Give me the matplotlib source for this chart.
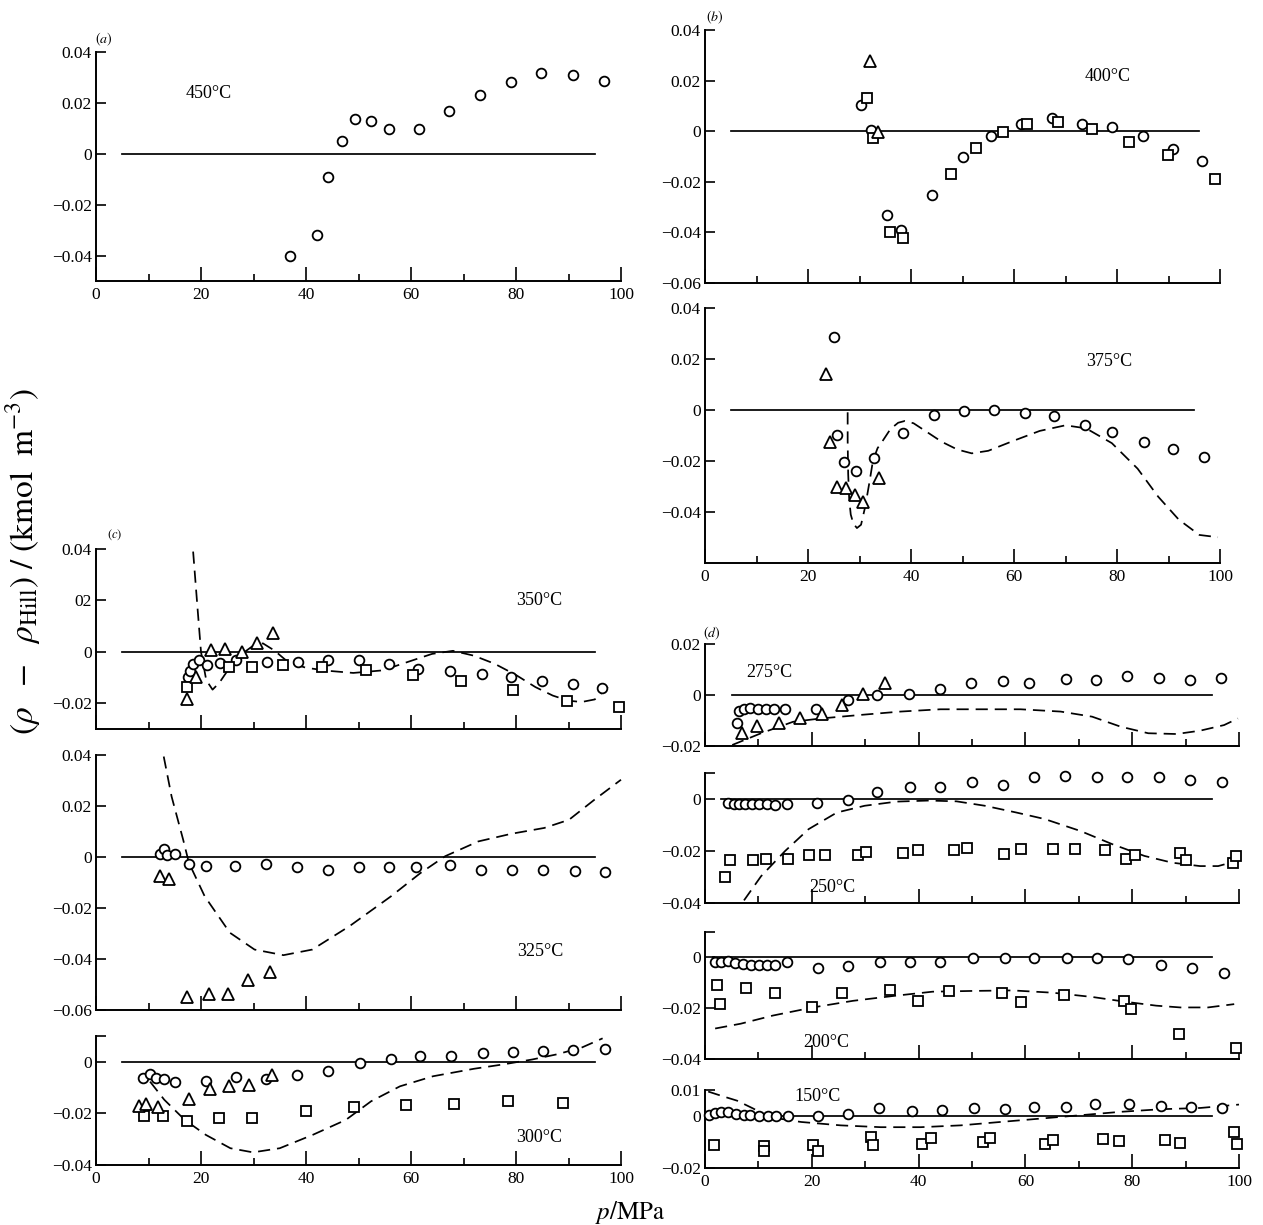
import matplotlib
matplotlib.use("Agg")
import matplotlib.pyplot as plt
from matplotlib.ticker import MultipleLocator, FixedLocator

"""
Deviation of measured densities from the Hill equation, p from 0 to 100 MPa,
eleven isotherms in four groups (a) to (d).
"""

# ---- data: p in MPa, deviation in kmol m^-3 ----
# (a) 450 C
p450_circ = [36.9, 42.0, 44.1, 46.8, 49.4, 52.4, 55.9, 61.6, 67.3, 73.2, 79.0, 84.8, 90.9, 96.7]
d450_circ = [-0.0401, -0.0320, -0.0093, 0.0048, 0.0135, 0.0127, 0.0098, 0.0098, 0.0169, 0.0231,
             0.0282, 0.0315, 0.0310, 0.0286]

# (b) 400 C
p400_circ = [30.3, 32.3, 35.3, 38.1, 44.0, 50.0, 55.6, 61.4, 67.4, 73.2, 79.0, 85.1, 90.9, 96.5]
d400_circ = [0.0104, 0.0003, -0.0332, -0.0390, -0.0253, -0.0103, -0.0020, 0.0029, 0.0053, 0.0029,
             0.0016, -0.0018, -0.0069, -0.0117]
p400_sq = [31.4, 32.6, 35.9, 38.4, 47.8, 52.7, 57.8, 62.6, 68.6, 75.2, 82.3, 89.9, 99.1]
d400_sq = [0.0131, -0.0025, -0.0400, -0.0421, -0.0170, -0.0065, -0.0004, 0.0029, 0.0036, 0.0009,
           -0.0044, -0.0094, -0.0190]
p400_tri = [32.1, 33.6]
d400_tri = [0.0276, -0.0004]

# (b) 375 C
p375_circ = [25.0, 25.7, 27.0, 29.4, 32.8, 38.5, 44.5, 50.2, 56.2, 62.1, 67.8, 73.7, 79.0, 85.2, 90.8, 96.8]
d375_circ = [0.0286, -0.0099, -0.0204, -0.0239, -0.0187, -0.0090, -0.0018, -0.0004, 0.0000, -0.0010,
             -0.0025, -0.0059, -0.0086, -0.0127, -0.0152, -0.0183]
p375_tri = [23.5, 24.3, 25.6, 27.3, 29.1, 30.6, 33.7]
d375_tri = [0.0140, -0.0125, -0.0303, -0.0306, -0.0332, -0.0361, -0.0265]
p375_eq = [27.7, 27.7, 27.8, 28.0, 28.3, 28.8, 29.5, 30.3, 31.1, 32.0, 32.6, 33.5, 34.6, 36.0, 37.5,
           38.8, 40.5, 43.0, 46.0, 49.0, 51.8, 55.0, 60.0, 65.0, 70.0, 74.0, 79.0, 84.0, 88.0, 92.0,
           96.0, 99.6]
d375_eq = [-0.0009, -0.012, -0.025, -0.035, -0.041, -0.0445, -0.0463, -0.045, -0.038, -0.0275, -0.020,
           -0.015, -0.0118, -0.0075, -0.0050, -0.0043, -0.0052, -0.0085, -0.0125, -0.0155, -0.0170,
           -0.0160, -0.0120, -0.0082, -0.0060, -0.0072, -0.013, -0.023, -0.034, -0.043, -0.049, -0.0499]

# (c) 350 C
p350_circ = [17.5, 17.9, 18.5, 19.7, 21.2, 23.7, 26.7, 32.5, 38.4, 44.1, 50.1, 55.9, 61.3, 67.5, 73.5,
             79.0, 85.0, 90.9, 96.4]
d350_circ = [-0.0098, -0.0074, -0.0048, -0.0033, -0.0052, -0.0043, -0.0031, -0.0039, -0.0039, -0.0030,
             -0.0033, -0.0046, -0.0065, -0.0074, -0.0087, -0.0098, -0.0115, -0.0124, -0.0140]
p350_sq = [17.4, 25.4, 29.7, 35.6, 43.1, 51.5, 60.4, 69.6, 79.4, 89.7, 99.7]
d350_sq = [-0.0137, -0.0059, -0.0059, -0.0051, -0.0059, -0.0069, -0.0090, -0.0115, -0.0147, -0.0190, -0.0213]
p350_tri = [17.3, 19.1, 21.9, 24.6, 27.8, 30.7, 33.7]
d350_tri = [-0.0183, -0.0098, 0.0007, 0.0012, 0.0001, 0.0035, 0.0074]
p350_eq = [18.5, 19.3, 20.0, 21.0, 22.2, 23.5, 25.5, 28.0, 30.0, 31.8, 34.0, 36.6, 40.0, 44.4, 49.0,
           54.6, 60.0, 64.0, 68.0, 72.0, 75.9, 80.0, 83.7, 87.0, 90.0, 92.5, 95.0, 97.5]
d350_eq = [0.039, 0.018, 0.0, -0.011, -0.0147, -0.012, -0.006, -0.0005, 0.0025, 0.0033, 0.0005, -0.0040,
           -0.0062, -0.0074, -0.0082, -0.0072, -0.0035, -0.0008, 0.0004, -0.0015, -0.0046, -0.0090,
           -0.0137, -0.0170, -0.0190, -0.0195, -0.0185, -0.0137]

# (c) 325 C
p325_circ = [12.1, 12.9, 13.6, 15.1, 17.7, 21.0, 26.4, 32.4, 38.3, 44.1, 50.1, 55.9, 61.0, 67.4, 73.3,
             79.2, 85.2, 91.2, 96.9]
d325_circ = [0.0013, 0.0031, 0.0009, 0.0013, -0.0027, -0.0037, -0.0037, -0.0026, -0.0039, -0.0050,
             -0.0039, -0.0039, -0.0039, -0.0033, -0.0050, -0.0050, -0.0050, -0.0056, -0.0060]
p325_tri = [12.2, 13.9, 17.4, 21.6, 25.2, 28.9, 33.2]
d325_tri = [-0.0076, -0.0086, -0.0549, -0.0539, -0.0539, -0.0483, -0.0451]
p325_eq = [12.9, 14.4, 16.6, 17.7, 20.7, 25.5, 30.2, 35.7, 41.2, 48.3, 56.2, 61.8, 66.5, 72.8, 79.1,
           85.4, 90.1, 94.9, 100.0]
d325_eq = [0.0394, 0.0237, 0.0068, -0.0023, -0.0154, -0.0297, -0.0363, -0.0385, -0.0363, -0.0271,
           -0.0154, -0.0063, 0.0003, 0.0061, 0.0091, 0.0114, 0.0146, 0.0224, 0.0303]

# (c) 300 C
p300_circ = [8.9, 10.2, 11.4, 13.0, 15.0, 20.9, 26.6, 32.4, 38.3, 44.2, 50.2, 56.1, 61.7, 67.6, 73.7,
             79.4, 85.1, 90.9, 96.9]
d300_circ = [-0.0062, -0.0047, -0.0062, -0.0066, -0.0078, -0.0075, -0.0058, -0.0065, -0.0052, -0.0034,
             -0.0006, 0.0009, 0.0021, 0.0022, 0.0034, 0.0039, 0.0040, 0.0044, 0.0048]
p300_sq = [9.1, 12.7, 17.4, 23.5, 29.8, 40.0, 49.1, 59.1, 68.1, 78.5, 89.0]
d300_sq = [-0.0209, -0.0209, -0.0229, -0.0219, -0.0219, -0.0190, -0.0175, -0.0168, -0.0162, -0.0151, -0.0160]
p300_tri = [8.1, 9.6, 11.8, 17.7, 21.7, 25.4, 29.2, 33.5]
d300_tri = [-0.0170, -0.0164, -0.0175, -0.0143, -0.0105, -0.0092, -0.0090, -0.0052]
p300_eq = [10.3, 13.0, 16.9, 20.9, 25.6, 29.9, 35.0, 41.3, 47.6, 52.4, 57.9, 64.2, 72.0, 77.6, 83.1,
           87.8, 92.5, 96.5]
d300_eq = [-0.0077, -0.0147, -0.0225, -0.0283, -0.0335, -0.0351, -0.0335, -0.0283, -0.0225, -0.0153,
           -0.0095, -0.0056, -0.0027, -0.0010, 0.0009, 0.0029, 0.0055, 0.0091]

# (d) 275 C
p275_circ = [6.0, 6.4, 7.3, 8.4, 10.0, 11.5, 13.0, 15.0, 20.8, 26.7, 32.3, 38.2, 44.0, 49.8, 55.8,
             60.6, 67.6, 73.3, 79.1, 85.0, 90.8, 96.6]
d275_circ = [-0.0111, -0.0061, -0.0054, -0.0051, -0.0056, -0.0056, -0.0056, -0.0056, -0.0056, -0.0020,
             -0.0001, 0.0004, 0.0022, 0.0048, 0.0056, 0.0048, 0.0064, 0.0059, 0.0075, 0.0065, 0.0059, 0.0065]
p275_tri = [6.9, 9.7, 13.8, 17.8, 21.9, 25.7, 29.5, 33.7]
d275_tri = [-0.0148, -0.0120, -0.0108, -0.0092, -0.0075, -0.0039, 0.0004, 0.0046]
p275_eq = [5.1, 10.5, 16.5, 21.7, 29.2, 36.6, 44.1, 51.6, 59.1, 66.6, 72.5, 77.8, 83.0, 88.3, 92.7, 97.2, 99.8]
d275_eq = [-0.0196, -0.0150, -0.0105, -0.0092, -0.0078, -0.0065, -0.0056, -0.0056, -0.0056, -0.0065,
           -0.0085, -0.0124, -0.0150, -0.0153, -0.0140, -0.0118, -0.0092]

# (d) 250 C
p250_circ = [4.3, 5.4, 6.4, 7.5, 8.8, 10.2, 11.6, 13.1, 15.3, 20.9, 26.7, 32.3, 38.4, 44.0, 50.0, 55.8,
             61.7, 67.5, 73.4, 79.1, 85.0, 90.9, 96.9]
d250_circ = [-0.0017, -0.0019, -0.0019, -0.0019, -0.0019, -0.0019, -0.0019, -0.0022, -0.0019, -0.0015,
             -0.0003, 0.0026, 0.0045, 0.0045, 0.0065, 0.0055, 0.0084, 0.0088, 0.0084, 0.0084, 0.0084,
             0.0075, 0.0065]
p250_sq = [3.7, 4.7, 9.0, 11.5, 15.6, 19.4, 22.4, 28.6, 30.1, 37.0, 39.9, 46.6, 49.0, 55.9, 59.2, 65.1,
           69.2, 74.9, 78.9, 80.6, 88.9, 90.1, 98.9, 99.5]
d250_sq = [-0.0299, -0.0235, -0.0235, -0.0230, -0.0230, -0.0217, -0.0217, -0.0217, -0.0204, -0.0206,
           -0.0196, -0.0196, -0.0188, -0.0210, -0.0194, -0.0194, -0.0194, -0.0196, -0.0232, -0.0215,
           -0.0209, -0.0235, -0.0248, -0.0219]
p250_eq = [7.3, 10.5, 15.0, 19.4, 24.7, 29.9, 35.9, 41.9, 47.1, 52.4, 58.3, 63.6, 70.3, 76.3, 82.3,
           87.5, 92.7, 96.1, 99.5]
d250_eq = [-0.0390, -0.0297, -0.0200, -0.0116, -0.0052, -0.0026, -0.0010, -0.0006, -0.0009, -0.0026,
           -0.0052, -0.0077, -0.0123, -0.0174, -0.0219, -0.0245, -0.0258, -0.0258, -0.0239]

# (d) 200 C
p200_circ = [1.9, 3.0, 4.3, 5.7, 7.1, 8.6, 10.1, 11.6, 13.1, 15.3, 21.2, 26.8, 32.7, 38.4, 44.1, 50.1,
             56.1, 61.7, 67.8, 73.4, 79.3, 85.3, 91.2, 97.1]
d200_circ = [-0.0019, -0.0017, -0.0014, -0.0023, -0.0026, -0.0030, -0.0030, -0.0030, -0.0030, -0.0019,
             -0.0042, -0.0032, -0.0019, -0.0019, -0.0019, -0.0004, -0.0004, -0.0004, -0.0004, -0.0004,
             -0.0006, -0.0030, -0.0042, -0.0062]
p200_sq = [2.2, 2.9, 7.6, 13.2, 20.0, 25.7, 34.6, 39.9, 45.6, 55.7, 59.1, 67.3, 78.5, 79.7, 88.8, 99.5]
d200_sq = [-0.0109, -0.0184, -0.0120, -0.0139, -0.0197, -0.0139, -0.0129, -0.0171, -0.0132, -0.0141,
           -0.0177, -0.0148, -0.0171, -0.0203, -0.0302, -0.0358]
p200_eq = [1.9, 6.7, 12.7, 20.2, 27.7, 35.2, 42.6, 50.1, 57.6, 65.1, 72.6, 78.5, 84.5, 89.0, 94.2, 99.1]
d200_eq = [-0.0280, -0.0261, -0.0229, -0.0197, -0.0171, -0.0152, -0.0135, -0.0132, -0.0130, -0.0139,
           -0.0156, -0.0174, -0.0190, -0.0197, -0.0197, -0.0184]

# (d) 150 C
p150_circ = [0.7, 1.9, 3.0, 4.3, 5.8, 7.3, 8.4, 10.2, 11.8, 13.3, 15.5, 21.2, 26.8, 32.6, 38.7, 44.3,
             50.3, 56.1, 61.7, 67.6, 73.1, 79.4, 85.3, 91.0, 96.9]
d150_circ = [0.0003, 0.0012, 0.0016, 0.0016, 0.0009, 0.0005, 0.0003, 0.0, 0.0, 0.0, 0.0, 0.0, 0.0009,
             0.0032, 0.0019, 0.0022, 0.0031, 0.0026, 0.0035, 0.0035, 0.0048, 0.0045, 0.0039, 0.0034, 0.0032]
p150_sq = [1.7, 11.1, 11.1, 20.2, 21.2, 31.0, 31.4, 40.6, 42.3, 52.1, 53.3, 63.7, 65.1, 74.6, 77.6,
           86.2, 89.0, 99.1, 99.6]
d150_sq = [-0.0112, -0.0114, -0.0134, -0.0112, -0.0134, -0.0082, -0.0112, -0.0108, -0.0086, -0.0099,
           -0.0084, -0.0108, -0.0091, -0.0088, -0.0095, -0.0091, -0.0104, -0.0060, -0.0108]
p150_eq = [0.6, 3.0, 6.0, 9.0, 12.0, 18.0, 25.4, 32.9, 40.4, 47.9, 55.3, 62.8, 70.3, 77.8, 85.3, 92.8, 100.0]
d150_eq = [0.0094, 0.0078, 0.0059, 0.0029, -0.0004, -0.0023, -0.0036, -0.0043, -0.0043, -0.0036,
           -0.0023, -0.0010, 0.0003, 0.0016, 0.0026, 0.0031, 0.0044]

# temperature labels and zero line extents
temp_labels = ["450\u00b0C", "400\u00b0C", "375\u00b0C", "350\u00b0C", "325\u00b0C", "300\u00b0C",
               "275\u00b0C", "250\u00b0C", "200\u00b0C", "150\u00b0C"]
zero_from = [5, 5, 5, 5, 5, 5, 5, 3, 1.5, 1]
zero_to = [95, 96, 95, 95, 95, 95, 95, 95, 95, 95]

W, H = 1263, 1225
plt.rc('font', family='Liberation Serif', size=12.5)
plt.rc('mathtext', fontset='stix')

fig = plt.figure(figsize=(W / 100, H / 100), dpi=100)
fig.patch.set_facecolor('white')

LW = 1.25
MK = dict(ls='none', mfc='white', mec='black', mew=1.3, clip_on=False, zorder=3)


def fmt(v):
    if v == 0:
        return "0"
    s = ("%.2f" % abs(v))
    return ("\u2212" + s) if v < 0 else s


def makePanel(box, ylim, yticks, ylabels=None, xlabels=False):
    """box = (x0, x1, ytop, ybottom) in pixels"""
    x0, x1, yt, yb = box
    ax = fig.add_axes([x0 / W, 1 - yb / H, (x1 - x0) / W, (yb - yt) / H])
    ax.set_xlim(0, 100)
    ax.set_ylim(*ylim)
    for s in ['top', 'right']:
        ax.spines[s].set_visible(False)
    for s in ['left', 'bottom']:
        ax.spines[s].set_linewidth(1.4)
    ax.xaxis.set_major_locator(MultipleLocator(20))
    ax.xaxis.set_minor_locator(MultipleLocator(10))
    ax.yaxis.set_major_locator(FixedLocator(yticks))
    if ylabels is None:
        ylabels = [fmt(v) for v in yticks]
    ax.set_yticklabels(ylabels)
    ax.tick_params(axis='x', which='major', direction='in', length=10, width=1.2, pad=4)
    ax.tick_params(axis='x', which='minor', direction='in', length=5, width=1.2)
    ax.tick_params(axis='y', which='major', direction='in', length=7, width=1.2, pad=3)
    if not xlabels:
        ax.set_xticklabels([])
    return ax


def zeroLine(ax, i):
    ax.plot([zero_from[i], zero_to[i]], [0, 0], color='black', lw=LW, zorder=2)


def dashed(ax, p, d):
    ax.plot(p, d, color='black', lw=LW, dashes=(7, 4), zorder=2, clip_on=False)


def circles(ax, p, d):
    ax.plot(p, d, marker='o', ms=7, **MK)


def squares(ax, p, d):
    ax.plot(p, d, marker='s', ms=6.5, **MK)


def triangles(ax, p, d):
    ax.plot(p, d, marker='^', ms=8, **MK)


XL = (96, 621)
XB = (705, 1220)
XD = (705, 1239)

# (a) 450
ax = makePanel((XL[0], XL[1], 51.7, 281), (-0.05, 0.04), [0.04, 0.02, 0, -0.02, -0.04], xlabels=True)
zeroLine(ax, 0)
circles(ax, p450_circ, d450_circ)
ax.text(21.5, 0.0237, temp_labels[0], ha='center', va='center', fontsize=13)
ax.text(1.5, 0.0447, r'$(a)$', ha='center', va='center', fontsize=10)

# (b) 400
ax = makePanel((XB[0], XB[1], 30, 283), (-0.06, 0.04), [0.04, 0.02, 0, -0.02, -0.04, -0.06])
zeroLine(ax, 1)
circles(ax, p400_circ, d400_circ)
squares(ax, p400_sq, d400_sq)
triangles(ax, p400_tri, d400_tri)
ax.text(78.1, 0.0216, temp_labels[1], ha='center', va='center', fontsize=13)
ax.text(1.9, 0.0452, r'$(b)$', ha='center', va='center', fontsize=10)

# (b) 375
ax = makePanel((XB[0], XB[1], 308, 563), (-0.06, 0.04), [0.04, 0.02, 0, -0.02, -0.04], xlabels=True)
zeroLine(ax, 2)
dashed(ax, p375_eq, d375_eq)
circles(ax, p375_circ, d375_circ)
triangles(ax, p375_tri, d375_tri)
ax.text(78.5, 0.019, temp_labels[2], ha='center', va='center', fontsize=13)

# (c) 350
ax = makePanel((XL[0], XL[1], 549, 729), (-0.03, 0.04), [0.04, 0.02, 0, -0.02],
               ylabels=["0.04", "02", "0", "\u22120.02"])
zeroLine(ax, 3)
dashed(ax, p350_eq, d350_eq)
circles(ax, p350_circ, d350_circ)
squares(ax, p350_sq, d350_sq)
triangles(ax, p350_tri, d350_tri)
ax.text(84.5, 0.0198, temp_labels[3], ha='center', va='center', fontsize=13)
ax.text(3.6, 0.0457, r'$(c)$', ha='center', va='center', fontsize=9)

# (c) 325
ax = makePanel((XL[0], XL[1], 755, 1010), (-0.06, 0.04), [0.04, 0.02, 0, -0.02, -0.04, -0.06])
zeroLine(ax, 4)
dashed(ax, p325_eq, d325_eq)
circles(ax, p325_circ, d325_circ)
triangles(ax, p325_tri, d325_tri)
ax.text(84.6, -0.0369, temp_labels[4], ha='center', va='center', fontsize=13)

# (c) 300
ax = makePanel((XL[0], XL[1], 1036, 1165), (-0.04, 0.01), [0.01, 0, -0.02, -0.04],
               ylabels=["", "0", "\u22120.02", "\u22120.04"], xlabels=True)
zeroLine(ax, 5)
dashed(ax, p300_eq, d300_eq)
circles(ax, p300_circ, d300_circ)
squares(ax, p300_sq, d300_sq)
triangles(ax, p300_tri, d300_tri)
ax.text(84.4, -0.0292, temp_labels[5], ha='center', va='center', fontsize=13)

# (d) 275
ax = makePanel((XD[0], XD[1], 644, 746), (-0.02, 0.02), [0.02, 0, -0.02])
zeroLine(ax, 6)
dashed(ax, p275_eq, d275_eq)
circles(ax, p275_circ, d275_circ)
triangles(ax, p275_tri, d275_tri)
ax.text(12.0, 0.0088, temp_labels[6], ha='center', va='center', fontsize=13)
ax.text(1.3, 0.0243, r'$(d)$', ha='center', va='center', fontsize=10)

# (d) 250
ax = makePanel((XD[0], XD[1], 773, 903), (-0.04, 0.01), [0.01, 0, -0.02, -0.04],
               ylabels=["", "0", "\u22120.02", "\u22120.04"])
zeroLine(ax, 7)
dashed(ax, p250_eq, d250_eq)
circles(ax, p250_circ, d250_circ)
squares(ax, p250_sq, d250_sq)
ax.text(23.9, -0.0339, temp_labels[7], ha='center', va='center', fontsize=13)

# (d) 200
ax = makePanel((XD[0], XD[1], 932, 1059), (-0.04, 0.01), [0.01, 0, -0.02, -0.04],
               ylabels=["", "0", "\u22120.02", "\u22120.04"])
zeroLine(ax, 8)
dashed(ax, p200_eq, d200_eq)
circles(ax, p200_circ, d200_circ)
squares(ax, p200_sq, d200_sq)
ax.text(22.7, -0.0334, temp_labels[8], ha='center', va='center', fontsize=13)

# (d) 150
ax = makePanel((XD[0], XD[1], 1090, 1168), (-0.02, 0.01), [0.01, 0, -0.02], xlabels=True)
zeroLine(ax, 9)
dashed(ax, p150_eq, d150_eq)
circles(ax, p150_circ, d150_circ)
squares(ax, p150_sq, d150_sq)
ax.text(21.0, 0.0074, temp_labels[9], ha='center', va='center', fontsize=13)

# common axis labels
fig.text(23 / W, 1 - 562 / H, r'$(\rho\ \ -\ \ \rho_{\rm Hill})\ /\ ({\rm kmol\ \ m^{-3}})$',
         rotation=90, ha='center', va='center', fontsize=24)
fig.text(630 / W, 1 - 1213 / H, r'$p/{\rm MPa}$', ha='center', va='center', fontsize=18)

fig.savefig('out.png', dpi=100, facecolor='white')
plt.close(fig)
